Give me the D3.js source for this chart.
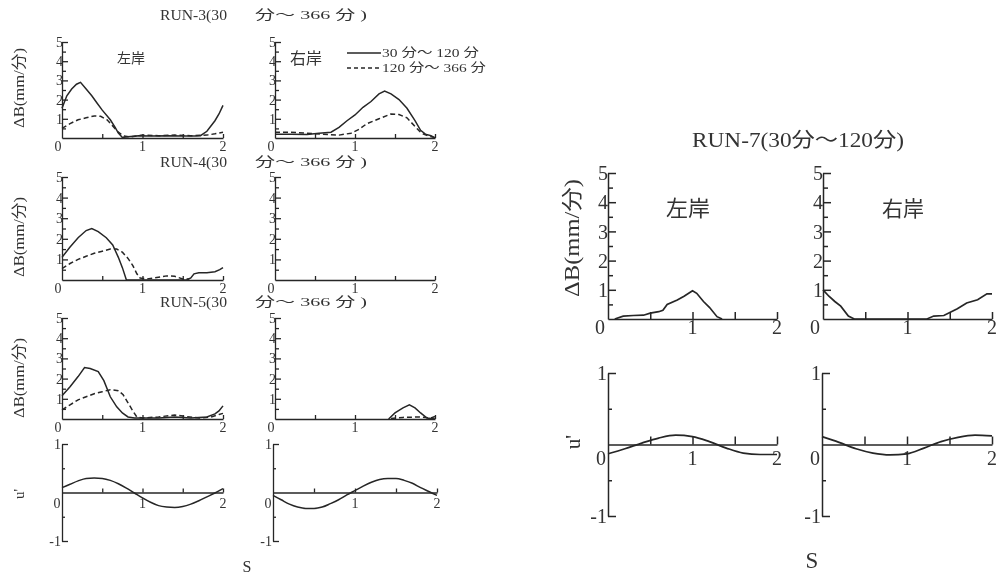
<!DOCTYPE html>
<html>
<head>
<meta charset="utf-8">
<script src="https://cdn.jsdelivr.net/npm/d3@7/dist/d3.min.js"></script>
<style>
  html, body { margin: 0; padding: 0; background: #fff; }
  svg { display: block; filter: grayscale(100%); }
  text { font-family: "Liberation Serif", "Noto Sans CJK JP", serif; fill: #333; }
  .cjk { font-family: "Noto Sans CJK JP", sans-serif; }
</style>
</head>
<body>
<svg id="chart" width="1000" height="575"></svg>
<script>
// ---------------- DATA ----------------
const sTicksLabeled = [1, 2];
const sTicksAll = [0.5, 1, 1.5, 2];
const dbTickLabels = [1, 2, 3, 4, 5];
const uTickLabels = [1, -1];

const seriesNames = ["30 分～ 120 分", "120 分～ 366 分"];
const smallTitles = ["RUN-3(30", "RUN-4(30", "RUN-5(30"];
const smallTitleTail = "分～ 366 分 )";
const bigTitle = "RUN-7(30分～120分)";
const bankLabels = ["左岸", "右岸"];

// RUN-3
const run3LeftSolid = [[0,1.55],[0.06,2.2],[0.12,2.55],[0.18,2.8],[0.23,2.9],[0.3,2.55],[0.37,2.2],[0.43,1.85],[0.5,1.45],[0.6,0.95],[0.66,0.55],[0.7,0.26],[0.75,0.03],[0.82,0.06],[0.95,0.12],[1.1,0.1],[1.3,0.12],[1.5,0.1],[1.65,0.1],[1.72,0.12],[1.8,0.35],[1.9,0.9],[1.95,1.25],[2.0,1.7]];
const run3LeftDashed = [[0,0.5],[0.1,0.75],[0.2,0.95],[0.3,1.05],[0.4,1.15],[0.48,1.13],[0.56,0.95],[0.63,0.62],[0.7,0.3],[0.77,0.1],[0.85,0.05],[1.0,0.15],[1.2,0.12],[1.4,0.15],[1.6,0.12],[1.8,0.15],[1.9,0.22],[2.0,0.3]];
const run3RightSolid = [[0,0.2],[0.2,0.2],[0.4,0.18],[0.55,0.25],[0.7,0.3],[0.8,0.55],[0.9,0.9],[1.0,1.2],[1.1,1.6],[1.2,1.9],[1.3,2.3],[1.37,2.45],[1.45,2.3],[1.55,2.0],[1.65,1.55],[1.75,0.9],[1.82,0.4],[1.88,0.2],[1.95,0.12],[2.0,0.0]];
const run3RightDashed = [[0,0.3],[0.2,0.3],[0.4,0.25],[0.6,0.2],[0.8,0.15],[0.95,0.25],[1.05,0.45],[1.15,0.75],[1.3,1.0],[1.45,1.25],[1.55,1.22],[1.65,1.05],[1.75,0.6],[1.83,0.25],[1.92,0.1],[2.0,0.02]];

// RUN-4
const run4LeftSolid = [[0,1.1],[0.1,1.6],[0.2,2.05],[0.3,2.4],[0.37,2.5],[0.45,2.35],[0.55,2.05],[0.63,1.7],[0.7,1.1],[0.75,0.6],[0.8,0.0],[1.0,0.0],[1.3,0.0],[1.55,0.0],[1.6,0.1],[1.64,0.3],[1.7,0.35],[1.8,0.35],[1.9,0.4],[1.96,0.5],[2.0,0.6]];
const run4LeftDashed = [[0,0.55],[0.1,0.8],[0.2,1.0],[0.3,1.15],[0.4,1.3],[0.5,1.4],[0.6,1.5],[0.68,1.5],[0.75,1.35],[0.82,1.05],[0.88,0.7],[0.93,0.3],[0.97,0.1],[1.05,0.05],[1.15,0.1],[1.3,0.2],[1.4,0.18],[1.5,0.05],[1.58,0.05]];
const run4RightSolid = [];
const run4RightDashed = [];

// RUN-5
const run5LeftSolid = [[0,1.15],[0.1,1.6],[0.2,2.1],[0.28,2.55],[0.35,2.5],[0.45,2.35],[0.52,1.9],[0.6,1.1],[0.68,0.6],[0.75,0.3],[0.82,0.1],[0.9,0.05],[1.0,0.05],[1.2,0.05],[1.4,0.1],[1.6,0.05],[1.8,0.1],[1.9,0.25],[1.95,0.4],[2.0,0.65]];
const run5LeftDashed = [[0,0.45],[0.1,0.7],[0.2,0.95],[0.3,1.1],[0.4,1.25],[0.5,1.35],[0.6,1.45],[0.7,1.4],[0.76,1.2],[0.82,0.8],[0.88,0.4],[0.93,0.1],[1.0,0.05],[1.2,0.1],[1.4,0.2],[1.55,0.12],[1.7,0.05],[1.85,0.1],[1.95,0.22],[2.0,0.28]];
const run5RightSolid = [[1.42,0],[1.5,0.3],[1.6,0.55],[1.68,0.7],[1.75,0.55],[1.82,0.3],[1.9,0.05],[2.0,0]];
const run5RightDashed = [[1.45,0.03],[1.6,0.08],[1.8,0.1],[1.95,0.05],[2.0,0.12]];

// u' (RUN-3..5 common)
const uSmallLeft = [[0,0.10],[0.1,0.17],[0.2,0.24],[0.3,0.29],[0.4,0.30],[0.5,0.29],[0.6,0.25],[0.7,0.18],[0.8,0.09],[0.9,-0.01],[1.0,-0.11],[1.1,-0.20],[1.2,-0.27],[1.3,-0.30],[1.4,-0.31],[1.5,-0.29],[1.6,-0.24],[1.7,-0.17],[1.8,-0.09],[1.9,-0.01],[2.0,0.08]];
const uSmallRight = [[0,-0.06],[0.1,-0.15],[0.2,-0.24],[0.3,-0.30],[0.4,-0.33],[0.5,-0.33],[0.6,-0.30],[0.7,-0.23],[0.8,-0.15],[0.9,-0.05],[1.0,0.04],[1.1,0.13],[1.2,0.21],[1.3,0.27],[1.4,0.29],[1.5,0.29],[1.6,0.25],[1.7,0.19],[1.8,0.10],[1.9,0.02],[2.0,-0.06]];

// RUN-7
const run7Left = [[0.08,0],[0.18,0.1],[0.3,0.12],[0.42,0.13],[0.5,0.2],[0.6,0.25],[0.65,0.3],[0.7,0.5],[0.82,0.65],[0.9,0.78],[1.0,0.97],[1.05,0.88],[1.13,0.6],[1.2,0.4],[1.29,0.08],[1.35,0]];
const run7Right = [[0,1.0],[0.07,0.78],[0.14,0.6],[0.21,0.44],[0.3,0.1],[0.37,0],[0.7,0],[1.0,0],[1.23,0],[1.31,0.1],[1.43,0.12],[1.59,0.35],[1.7,0.55],[1.83,0.66],[1.94,0.86],[2.0,0.86]];
const u7Left = [[0,-0.13],[0.2,-0.06],[0.4,0.02],[0.6,0.09],[0.8,0.13],[1.0,0.11],[1.2,0.04],[1.4,-0.05],[1.6,-0.12],[1.8,-0.14],[2.0,-0.14]];
const u7Right = [[0,0.11],[0.2,0.03],[0.4,-0.06],[0.6,-0.12],[0.8,-0.145],[1.0,-0.13],[1.2,-0.05],[1.4,0.04],[1.6,0.10],[1.8,0.13],[2.0,0.12]];

// ---------------- DRAWING ----------------
const svg = d3.select("#chart");
const INK = "#262626";

function line(x, y, curve) {
  return d3.line().x(d => x(d[0])).y(d => y(d[1])).curve(curve || d3.curveLinear);
}

function dbPanel(p, solid, dashed, big) {
  const g = svg.append("g");
  const x = d3.scaleLinear().domain([0, 2]).range([p.x0, p.x1]);
  const y = d3.scaleLinear().domain([0, 5]).range([p.y0, p.y5]);
  const fs = big ? 20 : 14;
  const tMaj = big ? 8 : 6, tMin = big ? 5 : 4, tX = big ? 7 : 4;
  const sw = big ? 1.5 : 1.3;
  g.append("g").attr("transform", `translate(${p.x0},0)`)
    .call(d3.axisRight(y).tickValues([1,2,3,4,5]).tickSize(tMaj).tickSizeOuter(0).tickFormat(""))
    .call(a => a.selectAll("line,path").attr("stroke", INK).attr("stroke-width", sw));
  g.append("g").attr("transform", `translate(${p.x0},0)`)
    .call(d3.axisRight(y).tickValues([0.5,1.5,2.5,3.5,4.5]).tickSize(tMin).tickSizeOuter(0).tickFormat(""))
    .call(a => { a.select(".domain").remove(); a.selectAll("line").attr("stroke", INK).attr("stroke-width", sw); });
  g.append("g").attr("transform", `translate(0,${p.y0})`)
    .call(d3.axisTop(x).tickValues(sTicksAll).tickSize(tX).tickSizeOuter(0).tickFormat(""))
    .call(a => a.selectAll("line,path").attr("stroke", INK).attr("stroke-width", sw));
  g.selectAll(".yl").data(dbTickLabels).join("text")
    .attr("x", p.x0 + (big ? 0 : 1)).attr("y", d => y(d)).attr("dy", "0.36em")
    .attr("text-anchor", "end").attr("font-size", fs).text(d => d);
  g.selectAll(".xl").data(sTicksLabeled).join("text")
    .attr("x", d => x(d)).attr("y", p.y0 + (big ? 15 : 13))
    .attr("text-anchor", "middle").attr("font-size", fs).text(d => d);
  g.append("text").attr("x", p.x0 - (big ? 8 : 4)).attr("y", p.y0 + (big ? 15 : 13))
    .attr("text-anchor", "middle").attr("font-size", fs).text("0");
  if (dashed && dashed.length)
    g.append("path").datum(dashed).attr("d", line(x, y)).attr("fill", "none")
      .attr("stroke", INK).attr("stroke-width", 1.5).attr("stroke-dasharray", "5,3");
  if (solid && solid.length)
    g.append("path").datum(solid).attr("d", line(x, y)).attr("fill", "none")
      .attr("stroke", INK).attr("stroke-width", big ? 1.7 : 1.5);
  return {x, y};
}

function uPanel(p, data, big) {
  const g = svg.append("g");
  const x = d3.scaleLinear().domain([0, 2]).range([p.x0, p.x1]);
  const y = d3.scaleLinear().domain([-1, 1]).range([p.yM1, p.y1]);
  const fs = big ? 20 : 14;
  const sw = big ? 1.5 : 1.3;
  const tMaj = big ? 8 : 6, tMin = big ? 4 : 3, tX = big ? 8 : 4;
  g.append("g").attr("transform", `translate(${p.x0},0)`)
    .call(d3.axisRight(y).tickValues([-1, 1]).tickSize(tMaj).tickSizeOuter(0).tickFormat(""))
    .call(a => a.selectAll("line,path").attr("stroke", INK).attr("stroke-width", sw));
  g.append("g").attr("transform", `translate(${p.x0},0)`)
    .call(d3.axisRight(y).tickValues([-0.5, 0.5]).tickSize(tMin).tickFormat(""))
    .call(a => { a.select(".domain").remove(); a.selectAll("line").attr("stroke", INK).attr("stroke-width", sw); });
  g.append("g").attr("transform", `translate(0,${y(0)})`)
    .call(d3.axisTop(x).tickValues(sTicksAll).tickSize(tX).tickSizeOuter(0).tickFormat(""))
    .call(a => a.selectAll("line,path").attr("stroke", INK).attr("stroke-width", sw));
  g.selectAll(".yl").data(uTickLabels).join("text")
    .attr("x", p.x0 - 1).attr("y", d => y(d)).attr("dy", "0.36em")
    .attr("text-anchor", "end").attr("font-size", fs).text(d => d);
  g.selectAll(".xl").data(sTicksLabeled).join("text")
    .attr("x", d => x(d)).attr("y", y(0) + (big ? 20 : 15))
    .attr("text-anchor", "middle").attr("font-size", fs).text(d => d);
  g.append("text").attr("x", p.x0 - (big ? 7 : 5)).attr("y", y(0) + (big ? 20 : 15))
    .attr("text-anchor", "middle").attr("font-size", fs).text("0");
  g.append("path").datum(data).attr("d", line(x, y, d3.curveMonotoneX)).attr("fill", "none")
    .attr("stroke", INK).attr("stroke-width", big ? 1.7 : 1.5);
}

function rotLabel(cx, cy, txt, fs, len) {
  const t = svg.append("text").attr("transform", `translate(${cx},${cy}) rotate(-90)`)
    .attr("text-anchor", "middle").attr("dy", "0.35em").attr("font-size", fs).text(txt);
  if (len) t.attr("textLength", len).attr("lengthAdjust", "spacingAndGlyphs");
}

function plainText(x, y, txt, fs, anchor, len) {
  const t = svg.append("text").attr("x", x).attr("y", y).attr("font-size", fs)
    .attr("text-anchor", anchor || "start").text(txt);
  if (len) t.attr("textLength", len).attr("lengthAdjust", "spacingAndGlyphs");
  return t;
}

// ---- left block: RUN-3, RUN-4, RUN-5 ----
const leftCol = { x0: 62, x1: 223 };
const rightCol = { x0: 275, x1: 435 };
const rowsY = [ {y0: 138, y5: 42}, {y0: 280, y5: 177}, {y0: 419, y5: 318} ];
const titleY = [20, 167, 307];
const smallData = [
  [run3LeftSolid, run3LeftDashed, run3RightSolid, run3RightDashed],
  [run4LeftSolid, run4LeftDashed, run4RightSolid, run4RightDashed],
  [run5LeftSolid, run5LeftDashed, run5RightSolid, run5RightDashed]
];
const dbLabelCY = [88, 237, 378];
smallData.forEach((d, i) => {
  dbPanel({ ...leftCol, ...rowsY[i] }, d[0], d[1], false);
  dbPanel({ ...rightCol, ...rowsY[i] }, d[2], d[3], false);
  plainText(160, titleY[i], smallTitles[i], 14, "start", 67);
  plainText(255, titleY[i] - 1, smallTitleTail, 13, "start", 112);
  rotLabel(19, dbLabelCY[i], "ΔB(mm/分)", 15, 80);
});
plainText(131, 63, bankLabels[0], 14, "middle").attr("class", "cjk");
plainText(306, 64, bankLabels[1], 16, "middle").attr("class", "cjk");

// legend
svg.append("line").attr("x1", 347).attr("x2", 381).attr("y1", 53).attr("y2", 53)
  .attr("stroke", INK).attr("stroke-width", 1.3);
svg.append("line").attr("x1", 347).attr("x2", 381).attr("y1", 68).attr("y2", 68)
  .attr("stroke", INK).attr("stroke-width", 1.3).attr("stroke-dasharray", "4,3");
plainText(382, 57, seriesNames[0], 12, "start", 97);
plainText(382, 72, seriesNames[1], 12, "start", 104);

// u' small
uPanel({ x0: 62, x1: 223, y1: 444, yM1: 541 }, uSmallLeft, false);
uPanel({ x0: 273, x1: 437, y1: 444, yM1: 541 }, uSmallRight, false);
rotLabel(19, 494, "u'", 15);
plainText(247, 572, "S", 16, "middle");

// ---- right block: RUN-7 ----
plainText(692, 147, bigTitle, 20, "start", 212);
dbPanel({ x0: 608, x1: 777, y0: 319, y5: 173 }, run7Left, null, true);
dbPanel({ x0: 823, x1: 992, y0: 319, y5: 173 }, run7Right, null, true);
plainText(688, 216, bankLabels[0], 22, "middle").attr("class", "cjk");
plainText(903, 216, bankLabels[1], 21, "middle").attr("class", "cjk");
rotLabel(572, 238, "ΔB(mm/分)", 21, 118);

uPanel({ x0: 608, x1: 777, y1: 373, yM1: 516 }, u7Left, true);
uPanel({ x0: 822, x1: 992, y1: 373, yM1: 516 }, u7Right, true);
rotLabel(573, 442, "u'", 21);
plainText(812, 568, "S", 23, "middle");
</script>
</body>
</html>
